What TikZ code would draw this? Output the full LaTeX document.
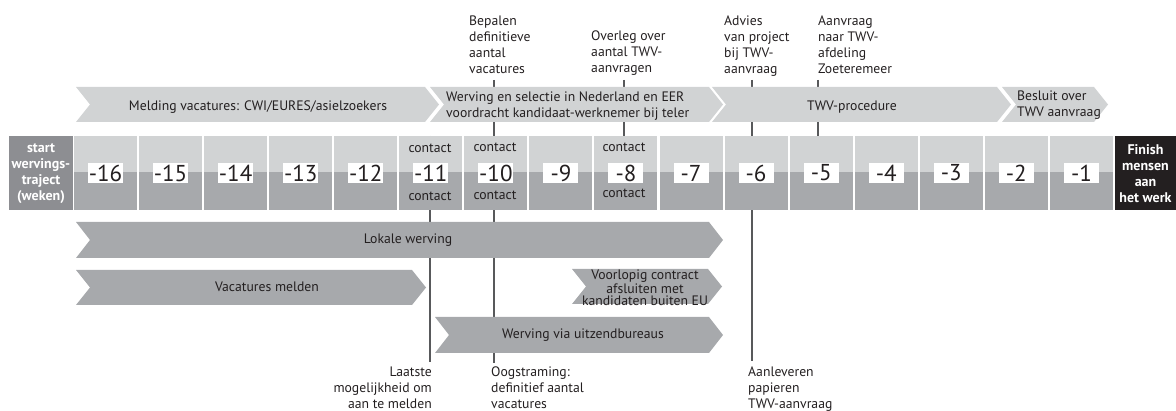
\documentclass[tikz,border=0pt]{standalone}
\usepackage{fontspec}
\setmainfont{PT Sans}
\definecolor{lg}{HTML}{D1D3D4}
\definecolor{mg}{HTML}{A7A9AC}
\definecolor{dg}{HTML}{8D8E92}
\definecolor{blk}{HTML}{231F20}
\definecolor{ln}{HTML}{58595B}
\definecolor{txt}{HTML}{231F20}
\newcommand{\chevshape}[5]{%
  \fill[#5] (#1,#3) -- (#2,#3) -- ({#2+14},{(#3+#4)/2}) -- (#2,#4) -- (#1,#4) -- ({#1+14},{(#3+#4)/2}) -- cycle;}
\begin{document}
\begin{tikzpicture}[x=1pt,y=-1pt,
  font=\fontsize{13.7}{16}\selectfont,
  every node/.style={inner sep=0pt, text=txt},
  marker/.style={draw=ln, line width=2.6pt},
  numbox/.style={fill=white, minimum width=35pt, minimum height=20pt, font=\fontsize{23}{23}\selectfont},
  boxtext/.style={text=white, font=\fontsize{14}{16}\selectfont\bfseries, align=center},
  toplbl/.style={align=left, anchor=base west},
  twoline/.style={align=left, anchor=west, font=\fontsize{13.7}{15.5}\selectfont}]
\useasboundingbox (0,0) rectangle (1176,411);

% marker lines (behind everything)
\coordinate (t10) at (494,80);  \coordinate (b10) at (494,363);
\coordinate (t11) at (430,136); \coordinate (b11) at (430,362);
\coordinate (t8)  at (624,80);  \coordinate (b8)  at (624,136);
\coordinate (t6)  at (752,80);  \coordinate (b6)  at (752,361);
\coordinate (t5)  at (818,80);  \coordinate (b5)  at (818,136);
\draw[marker] (t10) -- (b10);
\draw[marker] (t11) -- (b11);
\draw[marker] (t8) -- (b8);
\draw[marker] (t6) -- (b6);
\draw[marker] (t5) -- (b5);

% top chevrons
\chevshape{76}{425}{87}{122}{lg}
\chevshape{430}{709}{87}{122}{lg}
\chevshape{712}{997}{87}{122}{lg}
\chevshape{1002}{1094}{87}{122}{lg}
\node (a1) at (258,107) {Melding vacatures: CWI/EURES/asielzoekers};
\node[twoline] (a2) at (446,106) {Werving en selectie in Nederland en EER\\voordracht kandidaat-werknemer bij teler};
\node (a3) at (852,107) {TWV-procedure};
\node[twoline] (a4) at (1017,105) {Besluit over\\TWV aanvraag};

% timeline
\fill[dg] (9,136) rectangle (73,210);
\node[boxtext] (start) at (41,174) {start\\wervings-\\traject\\(weken)};
\foreach \i in {0,...,15}{
  \pgfmathsetmacro\xl{74+65.06*\i}
  \pgfmathtruncatemacro\n{\i-16}
  \fill[lg] (\xl,136) rectangle ({\xl+63},172);
  \fill[mg] (\xl,172) rectangle ({\xl+63},210);
  \node[numbox] (c\i) at ({\xl+31.5},173) {\n};
}
\fill[blk] (1115,136) rectangle (1176,210);
\node[boxtext] (finish) at (1145.5,174) {Finish\\mensen\\aan\\het werk};

\node (k11a) at (430,148) {contact};
\node (k11b) at (430,196) {contact};
\node (k10a) at (495,147) {contact};
\node (k10b) at (495,195) {contact};
\node (k8a)  at (624,147) {contact};
\node (k8b)  at (624,193) {contact};

% bottom chevrons
\chevshape{76}{709}{222}{258}{mg}
\chevshape{76}{412}{270}{305}{mg}
\chevshape{572}{708}{269}{304}{mg}
\chevshape{435}{709}{317}{353}{mg}
\node (b1) at (408,240) {Lokale werving};
\node (b2) at (267,287) {Vacatures melden};
\node[align=center, font=\fontsize{13.7}{12}\selectfont] (b3) at (645,288) {Voorlopig contract\\afsluiten met\\kandidaten buiten EU};
\node (b4) at (583,335) {Werving via uitzendbureaus};

% top labels (base = last line)
\node[toplbl] (l10) at (469,74) {Bepalen\\definitieve\\aantal\\vacatures};
\node[toplbl] (l8)  at (591,73) {Overleg over\\aantal TWV-\\aanvragen};
\node[toplbl] (l6)  at (724,74) {Advies\\van project\\bij TWV-\\aanvraag};
\node[toplbl] (l5)  at (818,74) {Aanvraag\\naar TWV-\\afdeling\\Zoeteremeer};

% bottom labels
\node[align=right, anchor=base east] (m11) at (432,409) {Laatste\\mogelijkheid om\\aan te melden};
\node[toplbl] (m10) at (491,409) {Oogstraming:\\definitief aantal\\vacatures};
\node[toplbl] (m6)  at (748,409) {Aanleveren\\papieren\\TWV-aanvraag};
\end{tikzpicture}
\end{document}
